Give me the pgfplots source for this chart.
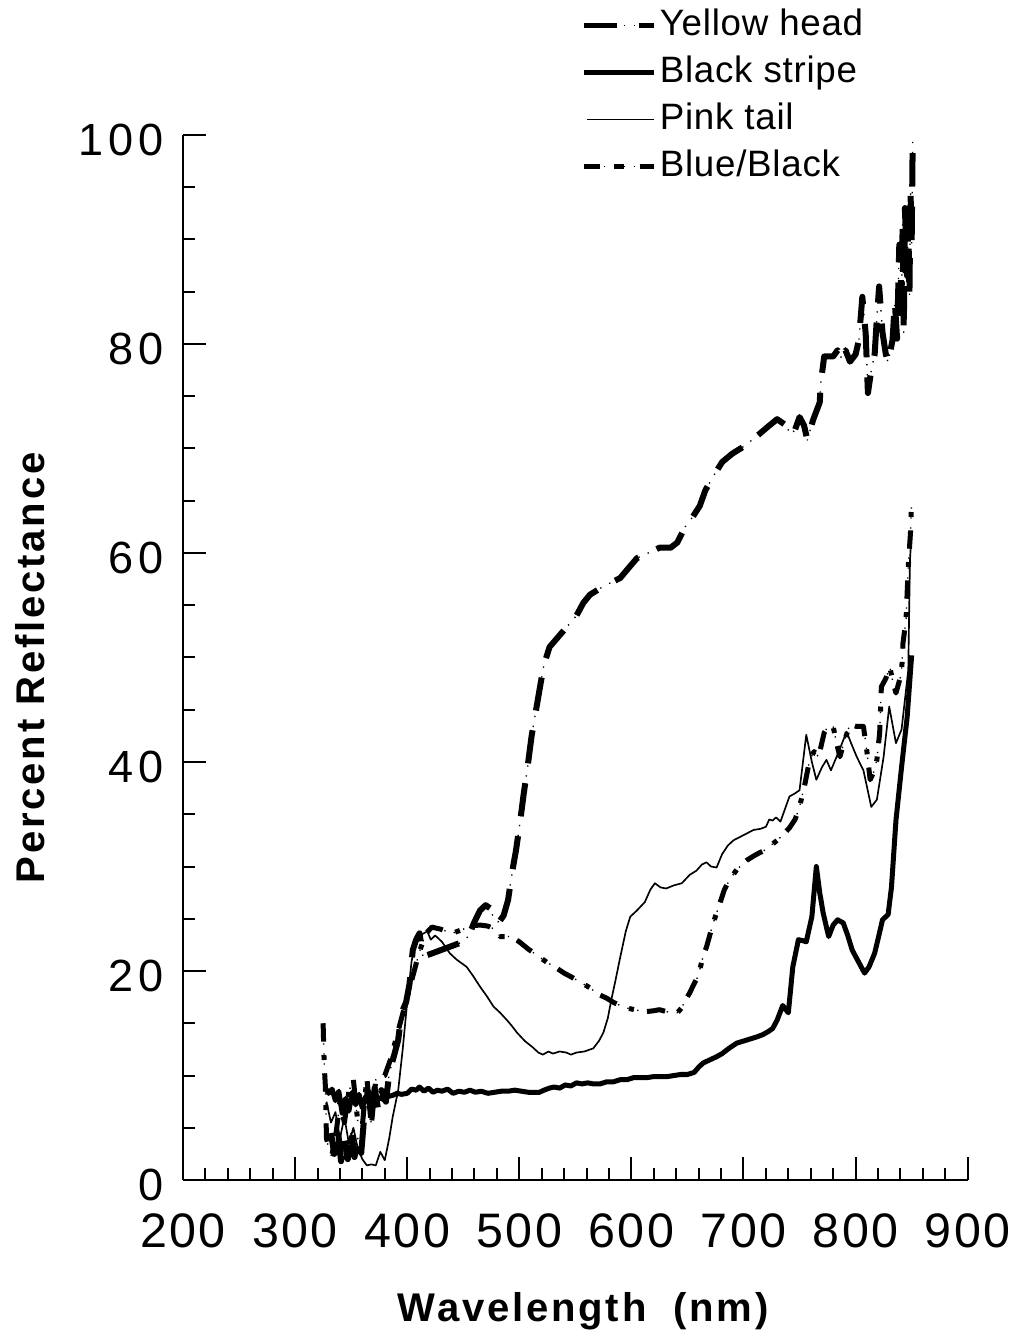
\documentclass[border=0pt]{standalone}
\usepackage{fontspec}
\setmainfont{Liberation Sans}
\newfontfamily\tickfont[LetterSpace=10]{Liberation Sans}
\newfontfamily\xtickfont[LetterSpace=5]{Liberation Sans}
\newfontfamily\labfont[LetterSpace=7]{Liberation Sans}
\newfontfamily\legfont[LetterSpace=2]{Liberation Sans}
\usepackage{pgfplots}
\usepackage{pgfplotstable}
\pgfplotsset{compat=1.18}

% spectra (wavelength nm, percent reflectance)
\pgfplotstableread{
x y
332 4.5
335 2.5
338 5.0
341 1.8
344 4.0
347 2.0
350 4.8
353 2.2
356 4.0
359 2.6
362 6.5
365 8.5
368 6.0
371 8.8
374 6.8
377 8.6
381 7.5
384 10.2
388 11.8
392 13.4
395 16.0
399 17.0
402 18.7
405 22.0
408 23.0
411 23.6
414 21.4
420 21.6
430 22.0
440 22.4
450 22.8
455 23.4
460 24.7
465 25.8
470 26.3
474 26.0
478 24.8
482 24.7
486 25.3
490 26.8
494 29.7
497 31.5
501 34.5
504 37.0
507 39.2
511 42.5
515 45.0
519 47.5
522 49.3
527 51.0
535 52.0
543 53.0
551 54.0
557 55.2
563 56.0
575 56.8
590 57.6
597 58.5
605 59.5
615 60.0
625 60.5
635 60.5
641 61.0
648 62.5
655 63.5
661 64.5
666 66.0
674 67.5
681 68.7
690 69.5
699 70.1
710 71.0
722 72.1
730 72.8
738 72.2
742 71.3
746 71.8
750 73.0
754 72.2
757 70.8
762 72.7
768 74.4
769 76.3
772 78.8
780 78.8
784 79.4
788 78.5
791 79.4
795 78.3
800 79.0
803 80.4
806 84.5
809 81.0
811 75.3
814 77.5
817 79.0
819 82.5
821 85.5
824 81.1
827 79.0
829 78.2
833 80.4
835 84.0
837 80.5
839 89.5
841 84.4
842 91.5
843 81.1
844 93.0
846 86.5
847 92.0
848 84.5
849 94.7
850 89.5
851 100
}\yellow

\pgfplotstableread{
x y
327 8.8
330 8.3
333 8.7
336 7.6
339 8.5
342 6.4
345 7.8
348 6.6
351 8.4
354 7.2
357 8.2
360 6.9
363 8.0
366 7.4
369 8.1
372 7.6
375 7.9
379 7.7
383 8.0
387 8.1
391 8.3
395 8.2
400 8.3
404 8.7
408 8.6
411 8.9
415 8.5
419 8.8
423 8.4
427 8.6
431 8.5
436 8.7
441 8.3
446 8.5
451 8.4
456 8.6
461 8.4
466 8.5
472 8.3
478 8.4
484 8.5
490 8.5
496 8.6
502 8.5
508 8.4
513 8.4
518 8.4
522 8.6
527 8.8
531 8.9
536 8.8
541 9.1
546 9.0
551 9.3
556 9.2
561 9.3
566 9.2
572 9.2
578 9.4
584 9.4
590 9.6
596 9.6
602 9.8
608 9.8
614 9.8
620 9.9
626 9.9
632 9.9
638 10.0
644 10.1
650 10.1
656 10.3
660 10.8
664 11.2
670 11.5
676 11.8
681 12.1
687 12.6
694 13.1
700 13.3
706 13.5
712 13.7
717 13.9
722 14.2
726 14.5
730 15.3
735 16.7
740 16.0
744 20.4
749 23.0
753 22.9
756 22.8
761 25.2
765 30.0
768 27.5
771 25.6
774 24.2
776 23.3
780 24.4
784 24.9
789 24.6
793 23.4
797 22.0
802 21.0
808 19.8
812 20.4
817 21.7
821 23.5
824 24.9
829 25.4
832 28.0
836 34.4
841 39.5
846 44.3
850 50.2
}\blackstripe

\pgfplotstableread{
x y
328 7.5
332 5.5
336 6.5
340 4.0
344 6.0
348 3.5
352 5.0
356 3.0
360 2.0
364 1.4
368 1.5
372 1.4
376 2.7
380 1.9
384 4.0
387 6.0
392 8.6
396 12.5
400 17.0
404 21.0
408 22.8
413 23.5
418 23.8
421 23.0
425 23.4
431 22.8
438 21.7
444 21.1
453 20.4
459 19.5
465 18.5
471 17.6
477 16.6
483 16.0
489 15.3
493 14.8
498 14.1
505 13.3
512 12.7
517 12.2
521 12.0
526 12.3
530 12.1
536 12.3
542 12.2
546 12.0
551 12.2
558 12.3
566 12.6
571 13.3
575 14.1
579 15.5
582 17.2
586 19.2
590 21.3
595 23.8
599 25.2
605 25.8
612 26.6
617 27.8
621 28.4
626 28.0
631 27.9
638 28.2
645 28.4
652 29.2
658 29.6
663 30.2
667 30.4
671 30.0
676 29.9
681 31.2
686 32.0
691 32.5
700 33.0
709 33.5
715 33.6
720 33.8
723 34.5
726 34.4
729 34.7
733 34.3
737 35.5
741 36.7
746 37.0
750 37.3
756 42.6
761 40.0
765 38.3
770 39.5
774 40.2
778 39.2
785 41.0
792 42.9
796 41.8
801 40.5
807 39.2
814 35.7
819 36.4
825 40.5
830 45.3
836 41.8
841 43.1
847 48.8
848.5 59.3
850 62.0
}\pinktail

\pgfplotstableread{
x y
325 15.0
326 11.0
327 9.0
328 4.0
330 3.0
333 2.5
336 4.0
340 7.5
344 5.5
348 8.5
352 9.6
356 5.5
360 5.2
364 9.8
368 5.2
372 9.6
376 9.8
380 10.0
385 11.5
390 13.5
395 15.5
400 17.5
405 19.5
410 21.5
416 23.5
422 24.2
430 24.0
440 23.6
450 24.0
455 24.3
465 24.4
472 24.3
478 24.0
483 23.3
492 23.3
500 22.8
508 22.1
516 21.5
525 20.8
533 20.3
540 19.8
547 19.4
555 18.9
563 18.4
570 17.8
578 17.4
584 17.0
590 16.7
594 16.5
603 16.3
612 16.1
620 16.2
625 16.3
632 16.1
641 16.0
645 16.5
648 17.2
652 17.9
656 18.8
659.5 19.5
664 21.4
667 22.3
673 24.6
679 26.5
683 27.8
688 28.8
694 29.7
703 30.6
709 31.0
714 31.3
718 31.5
723 31.9
730 32.5
735 33.0
741 33.7
746 34.5
750 35.7
755 38.0
759 40.2
763 41.0
767 40.5
772 42.8
776 43.5
780 43.4
783 41.8
786 40.5
790 42.0
795 43.6
801 43.4
807 43.4
810 41.1
813 38.3
816 39.0
819 40.2
821.5 42.8
823 47.2
827 48.0
830.5 49.1
833 47.8
836 46.6
841 48.5
842.3 51.4
845 53.6
846 56.2
847 58.7
849 62.0
850 65.0
}\blueblack

\begin{document}
\begin{tikzpicture}
\begin{axis}[
    width=235pt, height=313pt, scale only axis,
    xmin=200, xmax=900, ymin=0, ymax=100,
    axis x line*=bottom, axis y line*=left,
    axis line style={line width=0.8pt},
    xtick={200,300,...,900}, minor x tick num=4,
    ytick={0,20,...,100}, minor y tick num=3,
    tick align=inside,
    major tick length=7pt, minor tick length=3.6pt,
    every tick/.style={black, line width=0.6pt},
    /pgf/number format/assume math mode=true,
    xticklabel style={font={\fontsize{14.5}{17}\selectfont\xtickfont},
        inner sep=1pt, yshift=-8.9pt},
    yticklabel style={font={\fontsize{13.5}{16}\selectfont\tickfont}, xshift=-2.4pt, yshift=-1.5pt},
    xlabel={Wavelength\hspace{8pt}(nm)},
    ylabel={Percent Reflectance},
    xlabel style={font={\fontsize{12}{14}\selectfont\labfont\bfseries}, inner sep=0pt,
        at={(axis description cs:0.51,-0.135)}, anchor=base},
    ylabel style={font={\fontsize{12}{14}\selectfont\labfont\bfseries}, inner sep=0pt,
        at={(axis description cs:-0.177,0.49)}, anchor=base},
    clip=false,
    every axis plot/.append style={line join=round},
    legend cell align=left,
    legend style={draw=none, fill=none, at={(0.506,1.126)}, anchor=north west,
        inner sep=0pt, row sep=1.1pt,
        font={\fontsize{11}{13}\selectfont\legfont},
        nodes={inner sep=1pt, text height=8.5pt, text depth=2.5pt}},
    dotline/.style={black, line width=0.4pt, dash pattern=on 0.4pt off 2.6pt, forget plot},
]
\addplot[dotline] table {\yellow};
\addplot[dotline] table {\blueblack};

\addplot[black, line width=1.8pt, dash pattern=on 10pt off 6pt,
    legend image code/.code={
        \draw[line width=0.4pt, dash pattern=on 0.4pt off 2.6pt] (0pt,0pt) -- (21pt,0pt);
        \draw[line width=1.7pt, dash pattern=on 10pt off 6.5pt] (0pt,0pt) -- (21pt,0pt);}]
    table {\yellow};
\addlegendentry{Yellow head}

\addplot[black, line width=1.5pt, solid,
    legend image code/.code={\draw[line width=1.4pt, solid] (0pt,0pt) -- (21pt,0pt);}]
    table {\blackstripe};
\addlegendentry{Black stripe}

\addplot[black, line width=0.5pt, solid,
    legend image code/.code={\draw[line width=0.45pt, solid] (1pt,0pt) -- (21pt,0pt);}]
    table {\pinktail};
\addlegendentry{Pink tail}

\addplot[black, line width=1.5pt, dash pattern=on 5.5pt off 4pt on 1.5pt off 4pt,
    legend image code/.code={
        \draw[line width=0.4pt, dash pattern=on 0.4pt off 2.6pt] (0pt,0pt) -- (21pt,0pt);
        \draw[line width=1.6pt, dash pattern=on 5pt off 4pt on 3pt off 5pt] (0pt,0pt) -- (21pt,0pt);}]
    table {\blueblack};
\addlegendentry{Blue/Black}
\end{axis}
\path (current axis.south west) ++(-54.8pt,-47pt) rectangle ++(304.8pt,400.4pt);
\end{tikzpicture}
\end{document}
